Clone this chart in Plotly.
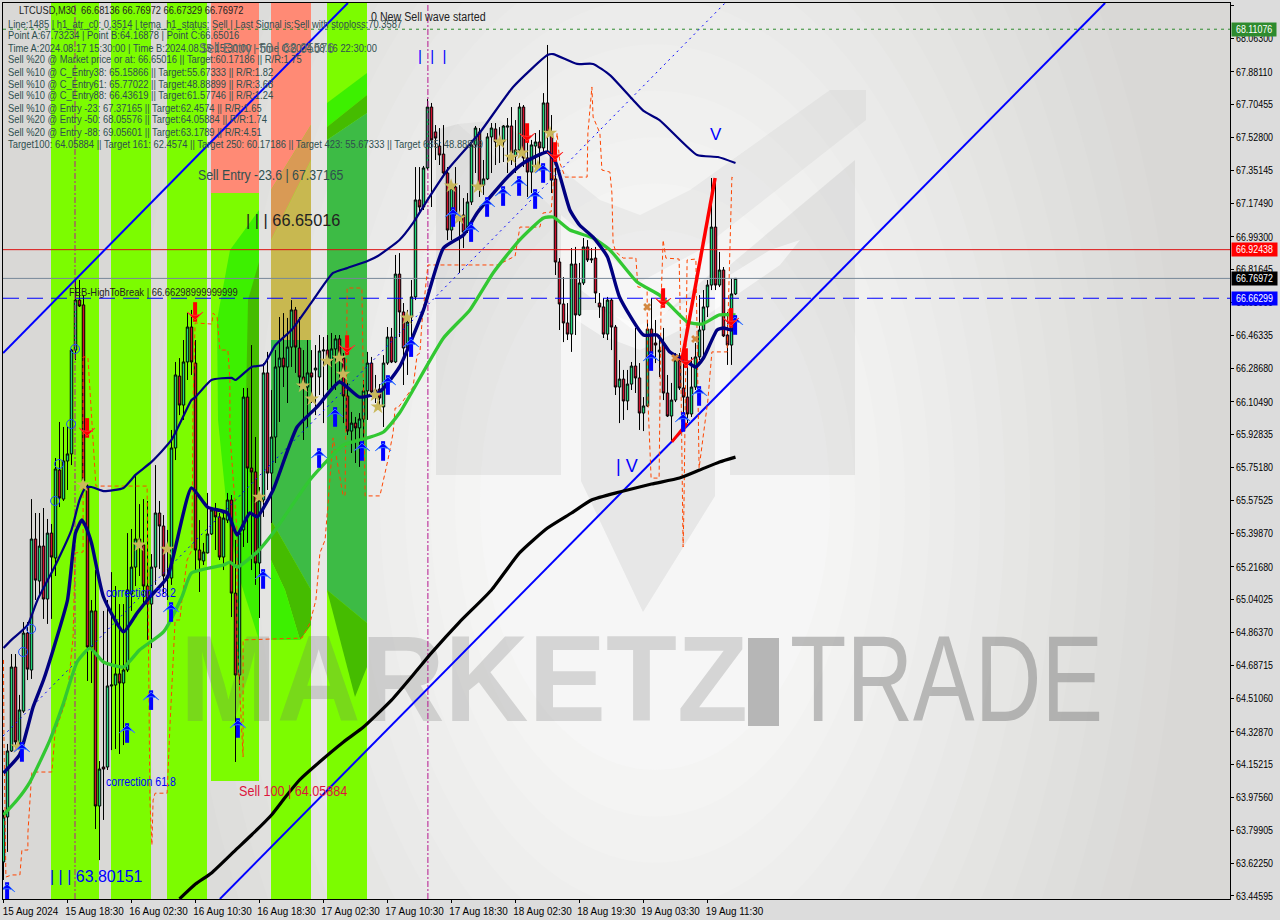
import json
import plotly.graph_objects as go

# ---------- candles (price) ----------
opens = [63.629,63.871,64.226,64.678,64.269,64.441,64.861,64.662,65.367,65.141,65.329,65.044,65.399,65.265,65.738,65.582,65.787,65.825,66.384,66.653,
66.627,65.652,64.786,64.980,63.930,64.140,64.140,64.576,64.581,64.641,64.592,64.662,65.071,65.216,65.367,65.335,65.114,65.017,65.216,65.507,
65.437,65.157,65.157,65.857,66.244,66.088,66.320,66.508,66.314,65.308,65.249,65.292,65.394,65.523,65.486,65.270,65.469,65.577,65.076,64.635,
65.416,66.131,65.749,65.728,65.238,65.577,66.261,65.722,65.916,66.293,66.341,66.293,66.400,66.600,66.395,66.239,66.185,66.261,66.277,66.239,
66.379,66.384,66.330,66.390,66.444,66.341,66.137,65.948,65.991,65.965,66.013,66.164,66.314,66.169,66.174,66.078,66.314,66.454,66.320,66.793,
66.589,66.395,66.562,66.670,67.192,67.154,67.364,67.692,67.558,67.482,67.439,67.337,67.030,67.262,67.105,67.111,67.030,67.181,67.488,67.558,
67.272,67.305,67.531,67.574,67.504,67.504,67.584,67.590,67.428,67.461,67.692,67.418,67.342,67.482,67.504,67.472,67.714,67.558,67.305,66.858,
66.632,66.530,66.470,66.847,66.573,66.745,66.939,66.869,66.879,66.637,66.616,66.470,66.653,66.508,66.185,66.228,66.110,66.201,66.298,66.234,
66.045,66.083,66.497,66.422,66.374,66.422,66.153,66.029,66.115,66.330,66.180,66.131,66.040,66.185,66.347,66.492,66.616,66.734,67.046,66.734,
66.815,66.465,66.411,66.686]
highs = [63.909,64.264,64.748,64.748,64.528,64.920,64.920,65.582,65.507,65.507,65.534,65.475,65.448,65.803,65.997,65.970,65.975,66.390,66.761,66.761,
66.680,65.668,65.039,65.200,64.172,64.980,65.039,65.189,65.114,65.017,65.017,65.399,65.421,65.706,65.555,65.582,65.572,65.286,65.765,65.572,
65.496,65.416,65.954,66.320,66.341,66.438,66.583,66.600,66.438,65.469,65.346,65.615,65.539,65.561,65.507,65.512,65.615,65.604,65.362,65.416,
66.180,66.180,66.411,65.916,65.647,66.314,66.374,66.169,66.384,66.562,66.583,66.557,66.653,66.616,66.562,66.384,66.438,66.384,66.411,66.465,
66.454,66.465,66.476,66.465,66.465,66.368,66.207,66.051,66.024,66.045,66.223,66.374,66.347,66.250,66.201,66.357,66.508,66.503,66.896,66.906,
66.637,66.600,66.761,67.369,67.369,67.375,67.735,67.714,67.595,67.579,67.595,67.369,67.288,67.369,67.272,67.202,67.229,67.515,67.590,67.579,
67.407,67.552,67.606,67.606,67.584,67.595,67.633,67.692,67.622,67.714,67.703,67.515,67.515,67.552,67.568,67.767,68.026,67.649,67.364,66.879,
66.777,66.637,66.933,66.939,66.853,66.987,66.976,66.933,66.939,66.691,66.664,66.670,66.664,66.519,66.330,66.277,66.277,66.320,66.503,66.314,
66.131,66.546,66.664,66.546,66.465,66.503,66.250,66.207,66.368,66.368,66.400,66.293,66.347,66.422,66.680,66.707,66.761,67.310,67.283,66.912,
66.831,66.589,66.772,66.770]
lows = [63.532,63.683,64.221,64.231,64.248,64.431,64.608,64.614,65.039,65.055,64.937,64.910,64.937,65.168,65.539,65.572,65.631,65.765,66.330,66.616,
65.642,64.603,64.592,63.806,63.639,63.855,64.124,64.231,64.237,64.210,64.258,64.651,64.980,65.114,65.168,65.017,64.824,64.780,65.120,65.206,
65.071,65.039,65.120,65.792,66.034,66.008,66.223,66.250,65.200,65.082,65.227,65.290,65.389,65.308,65.254,65.200,65.453,64.947,64.167,64.581,
65.324,65.346,65.200,65.120,64.942,65.486,65.631,65.453,65.776,65.997,66.185,66.099,66.293,66.261,66.185,65.900,65.970,66.099,66.034,66.142,
65.991,66.169,66.169,66.169,66.207,65.991,65.927,65.830,65.776,65.755,65.862,66.008,66.131,66.099,66.078,65.970,66.304,66.314,66.314,66.454,
66.196,66.250,66.400,66.653,67.122,67.138,67.353,67.154,67.407,67.380,67.315,66.976,66.976,67.100,66.799,66.933,67.014,67.165,67.337,67.208,
67.219,67.299,67.337,67.380,67.391,67.396,67.337,67.380,67.337,67.423,67.369,67.208,67.229,67.369,67.369,67.445,67.445,67.229,66.788,66.492,
66.427,66.438,66.374,66.465,66.567,66.734,66.858,66.853,66.637,66.557,66.449,66.438,66.384,66.142,65.991,66.008,66.061,66.169,66.153,65.954,
65.948,66.078,66.347,66.314,66.239,66.115,66.024,65.889,66.104,66.169,66.024,65.991,66.024,66.169,66.330,66.341,66.562,66.707,66.707,66.723,
66.454,66.304,66.304,66.680]
closes = [63.871,64.226,64.678,64.275,64.447,64.861,64.667,65.367,65.146,65.329,65.044,65.399,65.270,65.744,65.588,65.787,65.825,66.384,66.653,66.621,
65.679,64.786,64.980,63.930,64.129,64.129,64.576,64.581,64.641,64.592,64.662,65.093,65.216,65.367,65.324,65.114,65.017,65.216,65.507,65.437,
65.168,65.168,65.857,66.250,66.088,66.320,66.508,66.320,65.308,65.254,65.297,65.394,65.523,65.486,65.270,65.480,65.577,65.076,64.635,65.399,
66.131,65.749,65.728,65.238,65.577,66.261,65.722,65.916,66.293,66.341,66.293,66.400,66.600,66.400,66.239,66.207,66.261,66.239,66.287,66.379,
66.384,66.341,66.390,66.444,66.341,66.137,65.948,65.991,65.965,66.013,66.164,66.314,66.158,66.148,66.126,66.314,66.454,66.320,66.793,66.589,
66.395,66.535,66.670,67.192,67.154,67.364,67.692,67.515,67.525,67.434,67.337,67.030,67.256,67.122,67.100,67.019,67.181,67.488,67.579,67.272,
67.305,67.531,67.579,67.504,67.498,67.590,67.590,67.445,67.461,67.692,67.418,67.342,67.488,67.504,67.472,67.714,67.558,67.299,66.858,66.632,
66.530,66.470,66.847,66.573,66.745,66.939,66.869,66.874,66.691,66.616,66.470,66.653,66.508,66.185,66.228,66.110,66.201,66.298,66.234,66.045,
66.083,66.497,66.363,66.411,66.384,66.153,66.029,66.115,66.330,66.180,66.131,66.040,66.185,66.347,66.492,66.616,66.734,67.046,66.734,66.815,
66.460,66.411,66.686,66.76972]

# ---------- moving averages ----------
black_x = [44,48,52,58,62,67,70.5,74,79,85,90,97,103,107,114,122,129,136,142,147,154,162,169,174,179,183]
black_y = [63.43,63.51,63.57,63.693,63.774,63.882,63.979,64.07,64.167,64.275,64.355,64.5,64.651,64.754,64.92,65.093,65.292,65.426,65.507,65.577,65.62,65.663,65.695,65.738,65.782,65.808]
upper_x = [0,2,6,8.5,13,17,19,20.5,22,25,30,33,37,42,47,48,52,57,58,62,65,68,72,77.4,82.4,86,91,93.6,99,102.4,106,111,119,127.4,136,137.4,143.4,147.4,151.6,157.4,160,164,173.4,178.6,183]
upper_y = [64.78,64.824,64.904,65.039,65.227,65.416,65.577,65.642,65.647,65.625,65.642,65.712,65.782,65.9,66.115,66.131,66.223,66.234,66.223,66.293,66.304,66.411,66.492,66.653,66.799,66.826,66.863,66.89,66.976,67.068,67.192,67.353,67.552,67.8,67.972,67.977,67.924,67.924,67.864,67.73,67.671,67.622,67.434,67.423,67.391]
tema_x = [0,4,6,7.4,10,12.4,16,18,19.6,20.6,22,25,30,33.4,36.6,41,47,51,56,58.4,61.6,63.4,67.4,73.4,78.4,84,89,94,99,105,110,115,118.4,126,130,136,138,141.6,144,147.4,151,154,160,163.4,166.6,171,173,175,178.4,180,182,183]
tema_y = [64.108,64.205,64.35,64.463,64.608,64.77,65.039,65.399,65.469,65.432,65.346,65.055,64.867,64.969,65.055,65.163,65.642,65.539,65.507,65.389,65.507,65.486,65.631,65.97,66.078,66.212,66.131,66.158,66.293,66.6,66.933,67.003,67.122,67.315,67.391,67.45,67.396,67.138,67.057,66.992,66.885,66.67,66.465,66.465,66.374,66.32,66.293,66.341,66.492,66.503,66.492,66.519]
green_x = [0,3.4,6.6,11.6,15,18.4,21.6,25,30,34,40,44.6,47,55,56.6,58.4,63.4,67.4,76.6,85,91,95,99,110,116.6,122.4,129,135,137.4,141.6,147.4,151.6,158.4,164,171,174.6,179,183]
green_y = [63.882,63.962,64.059,64.285,64.484,64.705,64.78,64.705,64.678,64.77,64.867,65.055,65.184,65.227,65.243,65.216,65.297,65.399,65.685,65.873,65.911,65.943,66.045,66.449,66.6,66.799,66.976,67.095,67.1,67.03,66.987,66.923,66.75,66.68,66.535,66.524,66.573,66.573]

# ---------- stepped dashed stop line ----------
step_x = [0,0.1,0.6,2.1,4.1,4.6,6.1,6.1,6.9,7.1,12.1,12.9,15.4,16.1,17.4,17.9,19.9,19.9,21.1,22.4,23.1,35.9,36.1,36.6,37.1,37.4,37.9,40.9,41.6,42.1,42.9,44.1,44.6,45.9,47.1,47.4,47.9,52.1,52.4,53.4,54.1,56.1,56.6,56.6,58.4,58.4,59.9,59.9,74.6,76.6,78.1,79.1,80.4,81.1,82.4,84.9,85.4,85.9,85.9,89.6,90.4,94.1,96.1,97.4,97.9,98.6,102.4,103.4,104.1,104.6,105.9,106.1,124.1,124.6,127.9,129.1,134.1,134.9,136.9,137.6,138.4,138.6,139.1,140.4,145.9,146.1,147.1,147.4,149.1,149.6,151.6,152.1,152.4,153.1,154.9,158.1,158.6,160.9,161.1,161.9,163.9,164.4,164.9,165.6,168.9,169.1,169.9,169.9,170.1,170.9,173.1,173.6,173.9,174.9,176.1,177.1,180.9,181.6,182.1,182.4]
step_y = [64.716,64.323,63.548,63.559,63.559,63.693,63.693,63.785,64.054,64.113,64.113,64.328,64.484,64.554,64.84,65.292,65.297,66.347,66.347,65.9,65.652,65.652,65.039,63.962,63.72,63.962,63.999,63.999,64.355,64.608,64.931,64.931,65.039,65.254,65.308,66.115,66.53,66.524,66.583,66.562,66.384,66.384,66.223,65.938,65.399,64.824,64.194,64.824,64.834,64.915,65.039,65.292,65.362,65.55,65.911,65.599,65.604,66.653,66.718,66.718,65.599,65.599,65.792,65.938,66.072,66.072,66.185,66.357,66.368,66.53,66.777,66.842,66.842,66.853,66.89,67.046,67.046,67.122,67.127,67.31,67.552,67.504,67.391,67.315,67.315,67.552,67.8,67.638,67.552,67.353,67.342,67.229,66.96,66.912,66.879,66.879,66.723,66.718,66.115,65.695,65.695,66.653,66.976,66.879,66.874,66.67,65.523,65.324,65.523,66.869,66.874,66.008,65.749,65.916,66.115,66.374,66.374,66.923,67.315,67.31]

# ---------- markers ----------
buy_x = [0.9,4.6,30.9,36.9,41.9,58.6,64.9,78.9,82.9,89.6,94.9,96.1,101.9,112.4,116.9,120.9,124.9,128.9,132.9,134.9,161.9,173.9,169.9,182.9]
buy_y = [63.467,64.221,64.323,64.5,64.974,64.35,65.152,65.803,66.024,65.841,65.841,66.196,66.4,67.1,67.019,67.154,67.213,67.267,67.197,67.337,66.325,66.137,65.997,66.519]
sell_x = [20.9,47.9,85.9,130.9,137.9,164.9,170.6,181.9]
sell_y = [65.965,66.589,66.411,67.552,67.45,66.664,66.341,66.557]
star_x = [3.6,19.9,33.9,40.9,63.9,74.9,77.1,80.9,83.9,84.9,92.9,93.6,100.9,111.9,113.9,118.6,124.1,126.9,129.6,133.6,136.6]
star_y = [64.248,65.658,65.335,65.313,65.593,66.191,66.121,66.325,66.341,66.255,66.142,66.078,66.557,67.267,67.095,67.262,67.504,67.423,67.445,67.369,67.552]
cross_x = [160.9,167.9,172.9]
cross_y = [66.616,66.341,66.444]
ring_x = [4.9,6.9,12.9,13.9,16.9,17.9]
ring_y = [64.759,64.883,65.572,65.771,65.986,66.39]

# ---------- levels and ticks ----------
level_bid = 66.76972
level_red = 66.92438
level_fib = 66.66299
level_green = 68.11076
y_ticks = [68.23955,68.063,67.8811,67.70455,67.528,67.35145,67.1749,66.993,66.81645,66.6399,66.46335,66.2868,66.1049,65.92835,65.7518,65.57525,65.3987,65.2168,65.04025,64.8637,64.68715,64.5106,64.3287,64.15215,63.9756,63.79905,63.6225,63.44595]
x_tick_idx = [0,16,32,48,64,80,96,112,128,144,160,176]
x_tick_lbl = ["15 Aug 2024","15 Aug 18:30","16 Aug 02:30","16 Aug 10:30","16 Aug 18:30","17 Aug 02:30","17 Aug 10:30","17 Aug 18:30","18 Aug 02:30","18 Aug 19:30","19 Aug 03:30","19 Aug 11:30"]
info_lines = [
 "Line:1485 | h1_atr_c0: 0.3514 | tema_h1_status: Sell | Last Signal is:Sell with stoploss:70.3587",
 "Point A:67.73234 | Point B:64.16878 | Point C:66.65016",
 "Time A:2024.08.17 15:30:00 | Time B:2024.08.15 15:30:00 | Time C:2024.08.16 22:30:00",
 "Sell %20 @ Market price or at: 66.65016 || Target:60.17186 || R/R:1.75",
 "Sell %10 @ C_Entry38: 65.15866 || Target:55.67333 || R/R:1.82",
 "Sell %10 @ C_Entry61: 65.77022 || Target:48.88899 || R/R:3.68",
 "Sell %10 @ C_Entry88: 66.43619 || Target:61.57746 || R/R:1.24",
 "Sell %10 @ Entry -23: 67.37165 || Target:62.4574 || R/R:1.65",
 "Sell %20 @ Entry -50: 68.05576 || Target:64.05884 || R/R:1.74",
 "Sell %20 @ Entry -88: 69.05601 || Target:63.1789 || R/R:4.51",
 "Target100: 64.05884 || Target 161: 62.4574 || Target 250: 60.17186 || Target 423: 55.67333 || Target 685: 48.88899",
]

# ---------- page geometry helpers (decoration only) ----------
L, R, T, B = 3, 1230, 3, 899
Y0 = 68.2681; PPU = 185.8
XMIN = (L - 3.5) / 4; XMAX = (R - 3.5) / 4
YMAX = Y0 - T / PPU; YMIN = Y0 - B / PPU
dx = lambda px: (px - 3.5) / 4
dy = lambda py: Y0 - py / PPU
xp = lambda px: (px - L) / (R - L)
yp = lambda py: 1 - (py - T) / (B - T)

def poly(pts, color, opacity=1.0):
    d = "M " + " L ".join(f"{dx(a):.3f} {dy(b):.4f}" for a, b in pts) + " Z"
    return dict(type="path", path=d, xref="x", yref="y", fillcolor=color, opacity=opacity,
                line=dict(width=0), layer="below")

def rect(x0, x1, y0, y1, color, opacity=1.0):
    return poly([(x0, y0), (x1, y0), (x1, y1), (x0, y1)], color, opacity)

def ell(cx, cy, rx, ry, color):
    return dict(type="circle", xref="x", yref="y", x0=dx(cx - rx), x1=dx(cx + rx), y0=dy(cy + ry), y1=dy(cy - ry),
                fillcolor=color, line=dict(width=0), layer="below")

shapes = []
# soft radial background: many faint rings
ring_steps = 15
for k in range(ring_steps):
    f = k / (ring_steps - 1)
    rx = 525 - 350 * f
    ry = 920 - 650 * f
    r = int(0xDB + (0xF6 - 0xDB) * f); g = int(0xDA + (0xF6 - 0xDA) * f); b = int(0xD8 + (0xF6 - 0xD8) * f)
    shapes.append(ell(655, 500, rx, ry, f"rgb({r},{g},{b})"))

LAWN = "#7CFC00"; BRIGHT = "#3DF000"; DARK = "#45BC00"; FOREST = "#3DBB45"
SALMON = "#FF8A75"; TAN = "#D99A55"; OLIVE = "#C8B850"
for a, b in [(51,99),(111,151),(167,207)]:
    shapes.append(rect(a, b, T, B, LAWN))
# band 4
shapes.append(rect(211, 259, T, 193, SALMON))
shapes.append(rect(211, 259, 193, 781, LAWN))
shapes.append(poly([(259,210),(230,250),(217,320),(218,420),(228,520),(240,580),(259,640)], BRIGHT))
shapes.append(poly([(259,262),(248,300),(246,400),(250,480),(259,560)], DARK))
# band 5
shapes.append(rect(271, 311, T, B, LAWN))
shapes.append(poly([(271,3),(311,3),(311,125),(271,190)], SALMON))
shapes.append(poly([(271,190),(311,125),(311,160),(271,240)], TAN))
shapes.append(poly([(271,240),(311,160),(311,340),(271,340)], OLIVE))
shapes.append(poly([(271,340),(311,340),(311,590),(271,520)], FOREST))
shapes.append(poly([(271,520),(311,590),(311,625),(300,640),(285,590),(271,560)], DARK))
shapes.append(poly([(271,560),(285,590),(300,640),(271,640)], BRIGHT))
# band 6
shapes.append(rect(327, 367, T, B, LAWN))
shapes.append(poly([(327,103),(367,73),(367,95),(327,127)], BRIGHT))
shapes.append(poly([(327,127),(367,95),(367,113),(327,140)], DARK))
shapes.append(poly([(327,140),(367,113),(367,623),(327,590)], FOREST))
shapes.append(poly([(327,590),(367,623),(367,667),(355,697)], DARK))

# logo watermark
WM = "rgba(110,110,110,0.11)"
shapes.append(poly([(436,130),(458,124),(561,215),(561,475),(436,475)], WM))
shapes.append(poly([(581,290),(640,335),(715,270),(715,496),(643,612),(581,481)], WM))
shapes.append(poly([(730,265),(855,160),(855,475),(730,475)], WM))
shapes.append(poly([(561,215),(640,282),(700,250),(866,120),(866,90),(830,90),(690,190),(640,215),(600,200),(500,120),(458,124)], "rgba(110,110,110,0.07)"))
shapes.append(poly([(561,310),(600,335),(640,350),(700,320),(780,265),(800,240),(770,250),(690,300),(640,325),(600,310)], "rgba(255,255,255,0.55)"))
# solid block between the watermark words
shapes.append(rect(748, 779, 638, 726, "#B6B6B6"))

fig = go.Figure()

def line(x, y, color, width, dash=None, smooth=False):
    ln = dict(color=color, width=width, dash=dash)
    if smooth:
        ln.update(shape="spline", smoothing=0.5)
    fig.add_trace(go.Scatter(x=x, y=y, mode="lines", line=ln, hoverinfo="skip", showlegend=False))

# watermark words
fig.add_trace(go.Scatter(x=[dx(180)], y=[dy(690)], mode="text", text=["MARKETZ"], textposition="middle right",
                         textfont=dict(family="Liberation Sans", weight=700, size=122, color="rgba(110,110,110,0.24)"), hoverinfo="skip", showlegend=False))
fig.add_trace(go.Scatter(x=[dx(790)], y=[dy(690)], mode="text", text=["TRADE"], textposition="middle right",
                         textfont=dict(family="Liberation Sans", size=122, color="rgba(110,110,110,0.42)"), hoverinfo="skip", showlegend=False))

fig.add_trace(go.Candlestick(x=list(range(len(opens))), open=opens, high=highs, low=lows, close=closes,
    increasing=dict(line=dict(color="#000000", width=1), fillcolor="#1FD87A"),
    decreasing=dict(line=dict(color="#000000", width=1), fillcolor="#D0102E"),
    whiskerwidth=0, hoverinfo="skip", showlegend=False))

# levels
line([XMIN, XMAX], [level_red, level_red], "#DD1111", 1)
line([XMIN, XMAX], [level_bid, level_bid], "#778899", 1)
line([XMIN, XMAX], [level_fib, level_fib], "#0000FF", 1.2, "16px,8px")
line([XMIN, XMAX], [level_green, level_green], "#2E8B2E", 1, "3px,4px")
line([17.875, 17.875], [YMIN, YMAX], "#B5178F", 1, "6px,2px,2px,2px")
line([106.1, 106.1], [YMIN, YMAX], "#B5178F", 1, "6px,2px,2px,2px")

# trend channel
line([-0.1, 86.1], [66.368, 68.252], "#0000FF", 2)
line([54.1, 275.4], [63.43, 68.252], "#0000FF", 2)
line([-0.1, 180.4], [64.307, 68.252], "#0000FF", 1, "2px,4px")
line(step_x, step_y, "#FF4500", 1, "4px,3px")
line(black_x, black_y, "#000000", 3.2, smooth=True)
line(upper_x, upper_y, "#000080", 2.2, smooth=True)
line(green_x, green_y, "#32C832", 3.3, smooth=True)
line(tema_x, tema_y, "#000080", 3.4, smooth=True)
line([169.6, 177.9], [66.33, 67.31], "#FF0000", 3.5)
line([167.1, 170.9], [65.89, 65.99], "#FF0000", 3)

def marks(x, y, sym, color, size, lw=0, lc=None, angle=0):
    fig.add_trace(go.Scatter(x=x, y=y, mode="markers",
        marker=dict(symbol=sym, size=size, color=color, angle=angle, line=dict(width=lw, color=lc or color)),
        hoverinfo="skip", showlegend=False))

HEAD = 8 / PPU  # half height of the arrow glyph, in price
marks(ring_x, ring_y, "circle-open", "#1E50FF", 9, 1)
marks(star_x, star_y, "star", "#C9B85A", 11)
marks(cross_x, cross_y, "x", "#D2873F", 7)
marks(buy_x, buy_y, "line-ns", "#0000FF", 14, 4, "#0000FF")
marks(buy_x, [v + HEAD for v in buy_y], "arrow-wide", "#0000FF", 11, 1, "#3C78FF")
marks(sell_x, sell_y, "line-ns", "#FF0000", 14, 4, "#FF0000")
marks(sell_x, [v - HEAD for v in sell_y], "arrow-wide", "#FF0000", 11, 1, "#FF3030", angle=180)

anns = []
squeeze = {}
def txt(px, py, s, size, color, ratio=1.0, family="Liberation Sans"):
    anns.append(dict(x=xp(px), y=yp(py), xref="paper", yref="paper", text=s, showarrow=False, xanchor="left", yanchor="middle",
                     borderpad=0, align="left", font=dict(family=family, size=size, color=color)))
    squeeze[s] = ratio

DS = "#2F4F4F"
txt(18, 10, "LTCUSD,M30  66.68136 66.76972 66.67329 66.76972", 11.3, "#222222", 0.82)
for k, s in enumerate(info_lines):
    txt(7, 23.5 + 12 * k, s, 11.3, DS, 0.83)
txt(370, 17, "0 New Sell wave started", 12, "#222222", 0.89)
txt(198, 47, "Sell Entry -50 | 68.05576", 15, "#5A6E6E", 0.82)
txt(197, 174, "Sell Entry -23.6 | 67.37165", 15, DS, 0.82)
txt(245, 221, "| | | 66.65016", 17, "#222222", 0.96)
txt(68, 292, "FEB-HighToBreak | 66.66298999999999", 11.3, "#222222", 0.83)
txt(105, 593, "correction 38.2", 12, "#0000FF", 0.88)
txt(105, 782, "correction 61.8", 12, "#0000FF", 0.88)
txt(49, 876, "| | | 63.80151", 17, "#0000FF", 0.94)
txt(238, 790, "Sell 100 | 64.05884", 15, "#DC143C", 0.84)
txt(417, 56, "|  |  |", 15, "#0000FF")
txt(709, 134, "V", 17, "#0000FF")
txt(615, 466, "| V", 18, "#0000FF")

for lvl, bg in [(level_green, "#2E8B2E"), (level_red, "#FF0000"), (level_bid, "#000000"), (level_fib, "#0000FF")]:
    anns.append(dict(x=xp(1231), y=(lvl - YMIN) / (YMAX - YMIN), xref="paper", yref="paper", text=f"{lvl:.5f}", showarrow=False,
                     xanchor="left", yanchor="middle", bgcolor=bg, borderpad=1, font=dict(family="Liberation Sans", size=10.3, color="#FFFFFF")))
    squeeze[f"{lvl:.5f}"] = 0.86

fig.update_layout(
    width=1280, height=920, autosize=False,
    margin=dict(l=L, r=1280 - R, t=T, b=920 - B, pad=0, autoexpand=False),
    paper_bgcolor="#DCDCDC", plot_bgcolor="#D9D8D6",
    hovermode=False, showlegend=False, boxgap=0.12,
    shapes=shapes, annotations=anns,
    xaxis=dict(range=[XMIN, XMAX], rangeslider=dict(visible=False), showgrid=False, zeroline=False,
               tickmode="array", tickvals=x_tick_idx, ticktext=x_tick_lbl, ticks="outside", ticklen=3, tickcolor="#000000",
               tickfont=dict(family="Liberation Sans", size=10.3, color="#000000"), ticklabelshift=27, tickangle=0,
               showline=True, linecolor="#000000", linewidth=1, mirror=True),
    yaxis=dict(range=[YMIN, YMAX], side="right", showgrid=False, zeroline=False,
               tickmode="array", tickvals=y_ticks, ticktext=[f"{v:.5f}" for v in y_ticks], ticks="outside", ticklen=3, tickcolor="#000000",
               tickfont=dict(family="Liberation Sans", size=10.3, color="#000000"),
               showline=True, linecolor="#000000", linewidth=1, mirror=True),
)

post = """
document.body.style.margin='0';document.body.style.overflow='hidden';
var SQ=%s;
function sq(el,len){el.setAttribute('textLength',len);el.setAttribute('lengthAdjust','spacingAndGlyphs');}
document.querySelectorAll('.annotation-text').forEach(function(el){
  var r=SQ[el.textContent]; if(r&&r!==1){sq(el,el.getComputedTextLength()*r);}
});
document.querySelectorAll('.ytick text').forEach(function(el){sq(el,el.getComputedTextLength()*0.86);});
document.querySelectorAll('.xtick text').forEach(function(el){sq(el,el.getComputedTextLength()*0.96);});
document.querySelectorAll('.textpoint text').forEach(function(el){
  if(el.textContent==='TRADE'){sq(el,313);} if(el.textContent==='MARKETZ'){sq(el,568);}
});
""" % json.dumps(squeeze)

fig.write_html("out.html", config={"displayModeBar": False, "responsive": False}, post_script=post)
